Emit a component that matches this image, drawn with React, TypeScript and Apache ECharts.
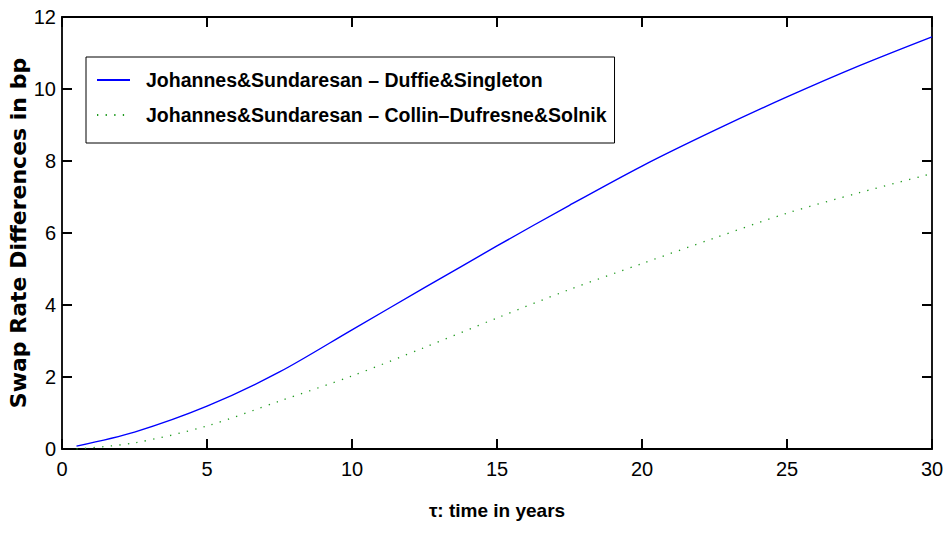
import React, { useEffect, useRef } from "react";
import * as echarts from "echarts";

const tau = [0.5, 2.5, 5, 7.5, 10, 12.5, 15, 17.5, 20, 22.5, 25, 27.5, 30];
const jsMinusDs = [0.08, 0.47, 1.19, 2.14, 3.31, 4.48, 5.64, 6.77, 7.86, 8.85, 9.78, 10.65, 11.45];
const jsMinusCds = [0.0, 0.17, 0.64, 1.33, 2.03, 2.82, 3.64, 4.43, 5.15, 5.86, 6.55, 7.12, 7.65];
const xTicks = [0, 5, 10, 15, 20, 25, 30];
const yTicks = [0, 2, 4, 6, 8, 10, 12];
const seriesNames = [
  "Johannes&Sundaresan \u2013 Duffie&Singleton",
  "Johannes&Sundaresan \u2013 Collin\u2013Dufresne&Solnik",
];
const xTitle = "\u03c4: time in years";
const yTitle = "Swap Rate Differences in bp";

const FONT = "'Liberation Sans', Arial, Helvetica, sans-serif";
const TICK_LEN = 10;

export default function App() {
  const ref = useRef<HTMLDivElement>(null);
  useEffect(() => {
    if (!ref.current) return;
    const chart = echarts.init(ref.current, undefined, { renderer: "svg" });
    const axisLine = () => ({ show: true, onZero: false, lineStyle: { color: "#000", width: 1.8 } });
    const tick = () => ({
      show: true,
      inside: true,
      length: TICK_LEN,
      lineStyle: { color: "#000", width: 1.8, opacity: 1 },
    });
    const xMin = xTicks[0];
    const xMax = xTicks[xTicks.length - 1];
    const yMin = yTicks[0];
    const yMax = yTicks[yTicks.length - 1];
    const tickStyle = { stroke: "#000", lineWidth: 1.8 };
    chart.setOption({
      animation: false,
      backgroundColor: "#fff",
      textStyle: { fontFamily: FONT },
      grid: {
        left: 62,
        right: 16,
        top: 17,
        bottom: 90,
        containLabel: false,
        outerBoundsMode: "none",
      },
      legend: {
        orient: "vertical",
        left: 86,
        top: 57,
        padding: [12, 8, 17, 10],
        itemWidth: 33,
        itemHeight: 14,
        itemGap: 13,
        backgroundColor: "#fff",
        borderColor: "#000",
        borderWidth: 1,
        borderRadius: 0,
        itemStyle: { opacity: 0 },
        textStyle: {
          fontFamily: FONT,
          fontWeight: "bold",
          fontSize: 19.5,
          lineHeight: 22,
          color: "#000",
          padding: [0, 0, 0, 11],
        },
        data: seriesNames,
      },
      xAxis: [
        {
          type: "value",
          min: xMin,
          max: xMax,
          interval: 5,
          position: "bottom",
          axisLine: axisLine(),
          axisTick: tick(),
          splitLine: { show: false },
          axisLabel: { show: true, color: "#000", fontSize: 20, margin: 10, fontFamily: FONT },
          name: xTitle,
          nameLocation: "middle",
          nameGap: 52,
          nameMoveOverlap: false,
          nameTextStyle: { color: "#000", fontSize: 19, fontWeight: "bold", fontFamily: FONT },
        },
        {
          type: "value",
          min: xMin,
          max: xMax,
          interval: 5,
          position: "top",
          axisLine: axisLine(),
          axisTick: tick(),
          splitLine: { show: false },
          axisLabel: { show: false },
        },
      ],
      yAxis: [
        {
          type: "value",
          min: yMin,
          max: yMax,
          interval: 2,
          position: "left",
          axisLine: axisLine(),
          axisTick: tick(),
          splitLine: { show: false },
          axisLabel: { show: true, color: "#000", fontSize: 20, margin: 6, fontFamily: FONT },
          name: yTitle,
          nameLocation: "middle",
          nameGap: 33,
          nameMoveOverlap: false,
          nameRotate: 90,
          nameTextStyle: { color: "#000", fontSize: 22, fontWeight: "bold", fontFamily: "'DejaVu Sans', sans-serif" },
        },
        {
          type: "value",
          min: yMin,
          max: yMax,
          interval: 2,
          position: "right",
          axisLine: axisLine(),
          axisTick: tick(),
          splitLine: { show: false },
          axisLabel: { show: false },
        },
      ],
      series: [
        {
          name: seriesNames[0],
          type: "line",
          xAxisIndex: 0,
          yAxisIndex: 0,
          data: tau.map((t, i) => [t, jsMinusDs[i]]),
          smooth: 0.3,
          showSymbol: false,
          symbol: "none",
          lineStyle: { color: "#0000ff", width: 1.4, type: "solid" },
          itemStyle: { color: "#0000ff" },
        },
        {
          name: seriesNames[1],
          type: "line",
          xAxisIndex: 0,
          yAxisIndex: 0,
          data: tau.map((t, i) => [t, jsMinusCds[i]]),
          smooth: 0.3,
          showSymbol: false,
          symbol: "none",
          lineStyle: { color: "#1e9a1e", width: 1.3, type: [1.3, 7.3] },
          itemStyle: { color: "#1e9a1e" },
        },
        {
          name: "xTickMarks",
          type: "custom",
          xAxisIndex: 0,
          yAxisIndex: 0,
          silent: true,
          clip: false,
          z: 5,
          data: xTicks.map((v) => [v, yMin]),
          encode: { x: 0, y: 1 },
          renderItem: (_p: any, api: any) => {
            const v = api.value(0);
            const b = api.coord([v, yMin]);
            const t = api.coord([v, yMax]);
            return {
              type: "group",
              children: [
                { type: "line", shape: { x1: b[0], y1: b[1], x2: b[0], y2: b[1] - TICK_LEN }, style: tickStyle },
                { type: "line", shape: { x1: t[0], y1: t[1], x2: t[0], y2: t[1] + TICK_LEN }, style: tickStyle },
              ],
            };
          },
        },
        {
          name: "yTickMarks",
          type: "custom",
          xAxisIndex: 0,
          yAxisIndex: 0,
          silent: true,
          clip: false,
          z: 5,
          data: yTicks.map((v) => [xMin, v]),
          encode: { x: 0, y: 1 },
          renderItem: (_p: any, api: any) => {
            const v = api.value(1);
            const l = api.coord([xMin, v]);
            const r = api.coord([xMax, v]);
            return {
              type: "group",
              children: [
                { type: "line", shape: { x1: l[0], y1: l[1], x2: l[0] + TICK_LEN, y2: l[1] }, style: tickStyle },
                { type: "line", shape: { x1: r[0], y1: r[1], x2: r[0] - TICK_LEN, y2: r[1] }, style: tickStyle },
              ],
            };
          },
        },
      ],
    });
    return () => chart.dispose();
  }, []);
  return <div ref={ref} style={{ width: 948, height: 539, position: "absolute", left: 0, top: 0 }} />;
}
